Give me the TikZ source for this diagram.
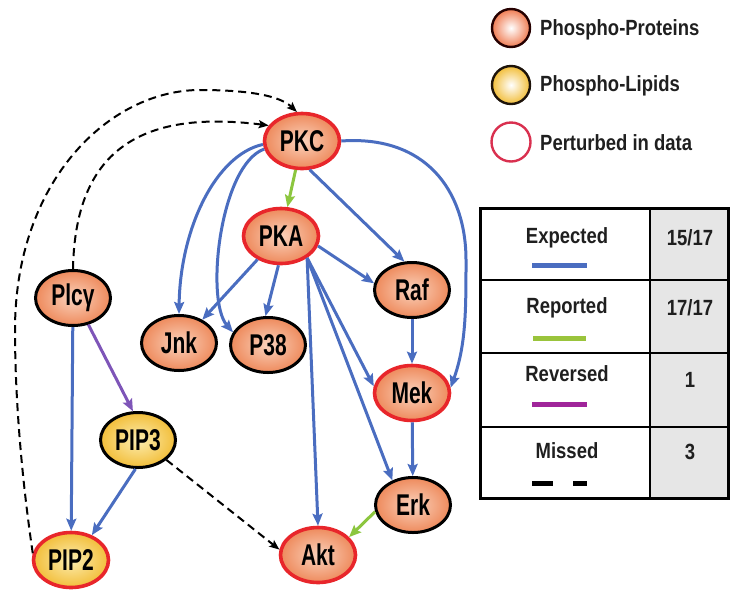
\documentclass[tikz,border=0pt]{standalone}
\usepackage{fontspec}
\usepackage{graphicx}
\setmainfont{Liberation Sans}
\usetikzlibrary{shapes.geometric,arrows.meta}
\definecolor{eblue}{HTML}{4A6DC0}
\definecolor{egreen}{HTML}{8CC63F}
\definecolor{epurple}{HTML}{7E55B8}
\definecolor{lgreen}{HTML}{9AC43C}
\definecolor{lmagenta}{HTML}{A0259A}
\definecolor{pout}{HTML}{EE8A5C}
\definecolor{pin}{HTML}{FAD2BC}
\definecolor{lout}{HTML}{F2BE3A}
\definecolor{lin}{HTML}{FCEDB0}
\definecolor{pred}{HTML}{E8262B}
\definecolor{ringred}{HTML}{D9304F}
\definecolor{cellgray}{HTML}{E6E6E6}
\newcommand\nlab[1]{\scalebox{0.7}[1]{#1}}
\newcommand\ltx[1]{\scalebox{0.84}[1]{#1}}
\begin{document}
\begin{tikzpicture}[x=1pt,y=-1pt,
  nodebase/.style={ellipse, inner sep=0pt, minimum width=75pt, minimum height=55pt,
    font=\fontsize{30}{30}\bfseries\selectfont},
  prot/.style={nodebase, draw=black, line width=3pt, inner color=pin, outer color=pout},
  lip/.style={nodebase, draw=black, line width=3pt, inner color=lin, outer color=lout},
  pert/.style={draw=pred, line width=3.6pt},
  edge/.style={line width=3pt, -{Stealth[length=12pt,width=10pt,inset=2pt]}},
  exp/.style={edge, eblue},
  rep/.style={edge, egreen},
  rev/.style={edge, epurple},
  miss/.style={line width=2pt, black, dash pattern=on 8pt off 5pt, -{Stealth[length=10pt,width=8pt,inset=2pt]}},
  legtext/.style={font=\fontsize{22}{22}\bfseries\selectfont, text=black!88, inner sep=0pt},
  legline/.style={line width=5pt}
]
\useasboundingbox (0,0) rectangle (730,590);

% nodes
\node[prot, pert] (PKC) at (302,141) {\nlab{PKC}};
\node[prot, pert] (PKA) at (281,236) {\nlab{PKA}};
\node[prot] (Raf) at (412,290) {\nlab{Raf}};
\node[prot] (Plc) at (73,298) {\nlab{Plcγ}};
\node[prot] (Jnk) at (179,343) {\nlab{Jnk}};
\node[prot] (P38) at (268,345) {\nlab{P38}};
\node[prot, pert] (Mek) at (412,393) {\nlab{Mek}};
\node[lip] (PIP3) at (138,440) {\nlab{PIP3}};
\node[prot] (Erk) at (413,505) {\nlab{Erk}};
\node[prot, pert] (Akt) at (318,555) {\nlab{Akt}};
\node[lip, pert] (PIP2) at (71,560) {\nlab{PIP2}};

% edges
\draw[rep] (PKC) -- (PKA);
\draw[exp] (PKC.-75) -- (Raf.105);
\draw[exp] (PKA.-15) -- (Raf.170);
\draw[exp] (PKA.225) -- (Jnk.45);
\draw[exp] (PKA.-95) -- (P38.95);
\draw[exp] (PKA.-40) -- (Akt.north);
\draw[exp] (PKA.-40) -- (Mek.170);
\draw[exp] (PKA.-40) -- (Erk.130);
\draw[exp] (Raf) -- (Mek);
\draw[exp] (Mek) -- (Erk);
\draw[rep] (Erk.190) -- (Akt.30);
\draw[exp] (Plc) -- (PIP2);
\draw[rev] (Plc.-60) -- (PIP3.100);
\draw[exp] (PIP3.-95) -- (PIP2.50);
\draw[exp] (PKC.185) .. controls (215,155) and (180,230) .. (Jnk.north);
\draw[exp] (PKC.192) .. controls (220,165) and (205,300) .. (P38.160);
\draw[exp] (PKC.east) .. controls (425,135) and (466,190) .. (466,260)
  .. controls (466,310) and (466,345) .. (Mek.8);
\draw[miss] (PIP3.-35) -- (Akt.172);
\draw[miss] (Plc.north) .. controls (75,160) and (130,108) .. (PKC.155);
\draw[miss] (PIP2.170) .. controls (22,480) and (15,400) .. (15,330)
  .. controls (15,180) and (110,90) .. (200,90)
  .. controls (250,90) and (280,96) .. (PKC.100);

% legend
\node[circle, draw=black!85!red, line width=2.4pt, inner color=white, outer color=pout!90!red,
  minimum size=38pt, inner sep=0pt] (lc1) at (511,28) {};
\node[circle, draw=black!85!brown, line width=2.4pt, inner color=white, outer color=lout,
  minimum size=38pt, inner sep=0pt] (lc2) at (511,85) {};
\node[circle, draw=ringred, line width=2.4pt, fill=white,
  minimum size=39pt, inner sep=0pt] (lc3) at (511,142) {};
\node[legtext, anchor=west] (lt1) at (540,30) {\ltx{Phospho-Proteins}};
\node[legtext, anchor=west] (lt2) at (540,86) {\ltx{Phospho-Lipids}};
\node[legtext, anchor=west] (lt3) at (540,143) {\ltx{Perturbed in data}};

% table
\fill[cellgray] (650,208) rectangle (728,498);
\draw[line width=2pt] (480,280) -- (728,280);
\draw[line width=2pt] (480,353) -- (728,353);
\draw[line width=2pt] (480,427) -- (728,427);
\draw[line width=2pt] (650,208) -- (650,498);
\draw[line width=3pt] (480,208) rectangle (728,498);

\node[legtext] (t1) at (567,238) {\ltx{Expected}};
\node[legtext] (t2) at (567,308) {\ltx{Reported}};
\node[legtext] (t3) at (567,374) {\ltx{Reversed}};
\node[legtext] (t4) at (567,451) {\ltx{Missed}};
\node[legtext] (n1) at (690,238) {\ltx{15/17}};
\node[legtext] (n2) at (690,308) {\ltx{17/17}};
\node[legtext] (n3) at (690,380) {\ltx{1}};
\node[legtext] (n4) at (690,452) {\ltx{3}};

\draw[legline, eblue] (532,265) -- (587,265);
\draw[legline, lgreen] (533,338) -- (586,338);
\draw[legline, lmagenta] (532,404) -- (587,404);
\draw[legline, black] (532,483) -- (553,483);
\draw[legline, black] (573,483) -- (587,483);
\end{tikzpicture}
\end{document}
